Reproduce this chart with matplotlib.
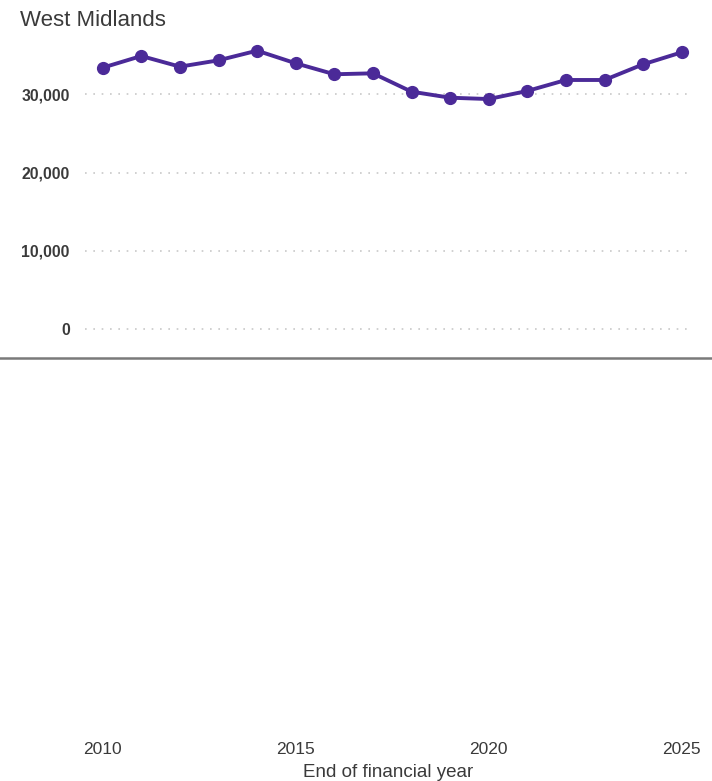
import matplotlib.pyplot as plt
from matplotlib.lines import Line2D
from matplotlib.ticker import FuncFormatter

(W, H, DPI) = (712, 781, 100)
###############################################################################
# Data
###############################################################################
years = [
        2010, 2011, 2012, 2013, 2014, 2015, 2016, 2017,
        2018, 2019, 2020, 2021, 2022, 2023, 2024, 2025
    ]
values = [
        33370, 34860, 33500, 34310, 35540, 33930, 32530, 32650,
        30310, 29540, 29370, 30400, 31800, 31800, 33800, 35330
    ]
yTicks = [0, 10000, 20000, 30000]
xTicks = [2010, 2015, 2020, 2025]
title = 'West Midlands'
xLabel = 'End of financial year'
###############################################################################
# Styles
###############################################################################
lineColor = '#4b2a98'
textColor = '#3a3a3a'
gridColor = '#c8c8c8'
plt.rcParams['font.family'] = ['Liberation Sans', 'DejaVu Sans']


def px(x, y):
    # pixel coordinates (top-left origin) to figure fraction
    return (x / W, 1 - y / H)


###############################################################################
# Figure
###############################################################################
fig = plt.figure(figsize=(W / DPI, H / DPI), dpi=DPI)
# Main axes -------------------------------------------------------------------
(top, bottom, left, right) = (30, 340, 85, 692)
ax = fig.add_axes([
        left / W, 1 - bottom / H, (right - left) / W, (bottom - top) / H
    ])
pxPerUnit = 78.4 / 10000
zeroPx = 329.3
ax.set_ylim(-(bottom - zeroPx) / pxPerUnit, (zeroPx - top) / pxPerUnit)
pxPerYear = 38.6
x0Px = 102.7
ax.set_xlim(2010 - (x0Px - left) / pxPerYear, 2010 + (right - x0Px) / pxPerYear)
ax.plot(
        years, values, color=lineColor, lw=2.8,
        marker='o', markersize=8.5, zorder=3, clip_on=False
    )
# Grid and ticks --------------------------------------------------------------
ax.set_yticks(yTicks)
ax.yaxis.set_major_formatter(FuncFormatter(lambda v, p: '{:,.0f}'.format(v)))
ax.grid(axis='y', color=gridColor, lw=1.2, linestyle=(0, (1, 4)))
ax.tick_params(
        axis='y', length=0, pad=11, labelsize=11.3, labelcolor=textColor
    )
for lab in ax.get_yticklabels():
    lab.set_fontweight('bold')
ax.set_xticks([])
for s in ax.spines.values():
    s.set_visible(False)
# Bottom x axis ---------------------------------------------------------------
axB = fig.add_axes([left / W, 1 - 738 / H, (right - left) / W, 0.0001])
axB.set_xlim(ax.get_xlim())
axB.set_xticks(xTicks)
axB.set_yticks([])
axB.tick_params(axis='x', length=0, pad=3, labelsize=12.5, labelcolor=textColor)
axB.set_xlabel(xLabel, fontsize=13.5, color=textColor, labelpad=5)
for s in axB.spines.values():
    s.set_visible(False)
# Title and separator ---------------------------------------------------------
fig.text(*px(20, 20), title, fontsize=16, color=textColor, va='center', ha='left')
fig.add_artist(Line2D(
        [0, 1], [px(0, 358)[1]] * 2, transform=fig.transFigure,
        color='#7a7a7a', lw=1.8
    ))
# Export ----------------------------------------------------------------------
fig.savefig('out.png', dpi=DPI)
